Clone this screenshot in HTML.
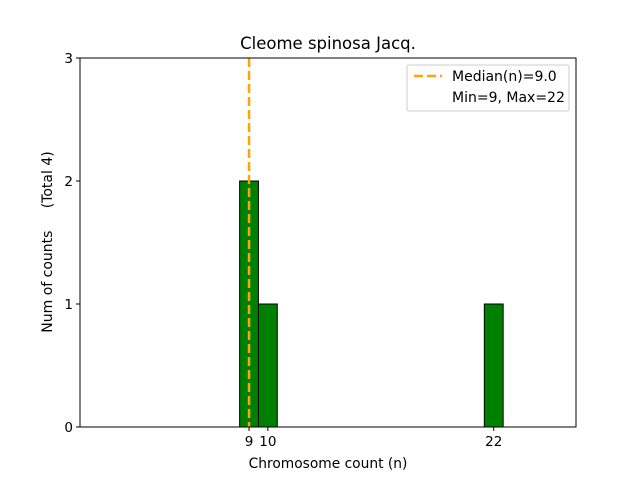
<!DOCTYPE html>
<html><head><meta charset="utf-8"><style>
body{margin:0;background:#fff}
svg{display:block;font-family:"DejaVu Sans","Liberation Sans",sans-serif}
</style></head><body>
<svg id="c" width="640" height="480" xmlns="http://www.w3.org/2000/svg">
<text x="328" y="49" font-size="16.5" text-anchor="middle">Cleome spinosa Jacq.</text>
<g id="bars"></g>
<line id="median" stroke="#ffa500" stroke-width="2.5" stroke-dasharray="9,4"/>
<rect x="80" y="58" width="496" height="369" fill="none" stroke="#000" stroke-width="1"/>
<g id="ticks" font-size="13.5"></g>
<text x="328" y="468" font-size="13.8" text-anchor="middle">Chromosome count (n)</text>
<text transform="translate(52,242) rotate(-90)" font-size="14" text-anchor="middle" xml:space="preserve">Num of counts     (Total 4)</text>
<g>
<rect x="407" y="65" width="162" height="46" rx="2" fill="#fff" stroke="#ccc"/>
<line x1="414" y1="76" x2="442" y2="76" stroke="#ffa500" stroke-width="2.5" stroke-dasharray="9,4"/>
<text x="452" y="81" font-size="14">Median(n)=9.0</text>
<text x="452" y="102" font-size="14">Min=9, Max=22</text>
</g>
</svg>
<script>
const binCenters=[9,10,11,12,13,14,15,16,17,18,19,20,21,22,23,24,25];
const binCounts=[2,1,0,0,0,0,0,0,0,0,0,0,0,1,0,0,0];
const xTicks=[9,10,22];
const yTicks=[0,1,2,3];
const medianVal=9;
const X0=0.02,X1=26.37,Y0=0,Y1=3;
const L=80,R=576,T=58,B=427;
const sx=v=>L+(v-X0)/(X1-X0)*(R-L);
const sy=v=>B-(v-Y0)/(Y1-Y0)*(B-T);
const NS="http://www.w3.org/2000/svg";
const bars=document.getElementById('bars');
binCenters.forEach((c,i)=>{
  const r=document.createElementNS(NS,'rect');
  const x1=sx(c-0.5),x2=sx(c+0.5),y=sy(binCounts[i]);
  r.setAttribute('x',x1);r.setAttribute('width',x2-x1);
  r.setAttribute('y',y);r.setAttribute('height',Math.max(0,B-y));
  r.setAttribute('fill','#008000');r.setAttribute('stroke','#000');r.setAttribute('stroke-width','1');
  
  
  bars.appendChild(r);
});
const m=document.getElementById('median');
m.setAttribute('x1',sx(medianVal));m.setAttribute('x2',sx(medianVal));
m.setAttribute('y1',T);m.setAttribute('y2',B);
const tk=document.getElementById('ticks');
xTicks.forEach(v=>{
  const l=document.createElementNS(NS,'line');
  l.setAttribute('x1',sx(v));l.setAttribute('x2',sx(v));l.setAttribute('y1',B);l.setAttribute('y2',B+4);l.setAttribute('stroke','#000');
  
  
  tk.appendChild(l);
  const t=document.createElementNS(NS,'text');
  t.setAttribute('x',sx(v));t.setAttribute('y',B+19);t.setAttribute('text-anchor','middle');t.textContent=v;
  
  
  tk.appendChild(t);
});
yTicks.forEach(v=>{
  const l=document.createElementNS(NS,'line');
  l.setAttribute('x1',L-4);l.setAttribute('x2',L);l.setAttribute('y1',sy(v));l.setAttribute('y2',sy(v));l.setAttribute('stroke','#000');
  
  
  tk.appendChild(l);
  const t=document.createElementNS(NS,'text');
  t.setAttribute('x',L-7);t.setAttribute('y',sy(v)+5);t.setAttribute('text-anchor','end');t.textContent=v;
  
  
  tk.appendChild(t);
});
</script>
</body></html>
